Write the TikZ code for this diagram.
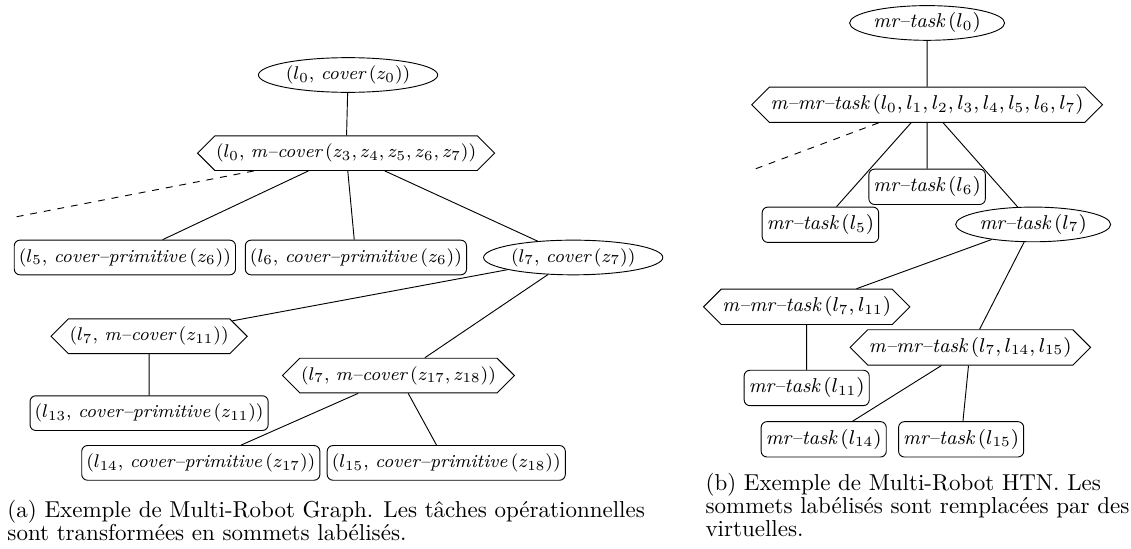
\RequirePackage{fix-cm}
\documentclass[tikz,border=0pt]{standalone}
\usetikzlibrary{positioning,shapes.geometric,shapes.symbols}

\begin{document}
\begin{tikzpicture}[
  font=\footnotesize,
  node distance=7mm,
  task/.style={draw, ellipse, inner xsep=0.5pt, inner ysep=0pt, minimum height=5.3mm},
  mtask/.style={draw, signal, signal to=west and east, inner xsep=0.5pt, minimum height=5.3mm},
  prim/.style={draw, rounded corners=2.5pt, inner xsep=2pt, minimum height=5.3mm},
  cut/.style={dashed},
  capt/.style={anchor=north west, align=left, inner sep=0pt, font=\fontsize{10}{10}\selectfont}
]
\useasboundingbox (0,0) rectangle (17.28,-8.374);

% ============================================================
% (a) MULTI-ROBOT GRAPH
% ============================================================
\node[task] (g0) at (5.318,-1.146) {$(l_0,\,\textit{cover}\,(z_0))$};
\node[mtask, below=6.5mm of g0, xshift=-0.3mm] (gm0) {$(l_0,\,\textit{m--cover}\,(z_3,z_4,z_5,z_6,z_7))$};
\node[prim, below=10.5mm of gm0, xshift=-33.8mm] (g5) {$(l_5,\,\textit{cover--primitive}\,(z_6))$};
\node[prim, below=10.5mm of gm0, xshift=1.5mm] (g6) {$(l_6,\,\textit{cover--primitive}\,(z_6))$};
\node[task, below=10.5mm of gm0, xshift=34.7mm] (g7) {$(l_7,\,\textit{cover}\,(z_7))$};
\node[mtask, below=6.6mm of g7, xshift=-64.8mm] (gm7a) {$(l_7,\,\textit{m--cover}\,(z_{11}))$};
\node[prim, below=6.3mm of gm7a] (g13) {$(l_{13},\,\textit{cover--primitive}\,(z_{11}))$};
\node[mtask, below=12.6mm of g7, xshift=-26.7mm] (gm7b) {$(l_7,\,\textit{m--cover}\,(z_{17},z_{18}))$};
\node[prim, below=7.9mm of gm7b, xshift=-30.2mm] (g14) {$(l_{14},\,\textit{cover--primitive}\,(z_{17}))$};
\node[prim, below=7.9mm of gm7b, xshift=7.3mm] (g15) {$(l_{15},\,\textit{cover--primitive}\,(z_{18}))$};
\coordinate (gcut) at (0.153,-3.331);

\draw (g0) -- (gm0);
\draw (gm0) -- (g5);
\draw (gm0) -- (g6);
\draw (gm0) -- (g7);
\draw[cut] (gm0) -- (gcut);
\draw (g7) -- (gm7a);
\draw (g7) -- (gm7b);
\draw (gm7a) -- (g13);
\draw (gm7b) -- (g14);
\draw (gm7b) -- (g15);

% ============================================================
% (b) MULTI-ROBOT HTN
% ============================================================
\begin{scope}[font=\fontsize{8.7}{10}\selectfont]
\node[task] (h0) at (14.165,-0.351) {$\textit{mr--task}\,(l_0)$};
\node[mtask, below=7mm of h0] (hm0) {$\textit{m--mr--task}\,(l_0,l_1,l_2,l_3,l_4,l_5,l_6,l_7)$};
\node[prim, below=7mm of hm0] (h6) {$\textit{mr--task}\,(l_6)$};
\node[prim, below=12.8mm of hm0, xshift=-16.3mm] (h5) {$\textit{mr--task}\,(l_5)$};
\node[task, below=12.8mm of hm0, xshift=16.2mm] (h7) {$\textit{mr--task}\,(l_7)$};
\node[mtask, below=7.1mm of h7, xshift=-34.6mm] (hm7a) {$\textit{m--mr--task}\,(l_7,l_{11})$};
\node[prim, below=6.85mm of hm7a] (h11) {$\textit{mr--task}\,(l_{11})$};
\node[mtask, below=13.3mm of h7, xshift=-9.6mm] (hm7b) {$\textit{m--mr--task}\,(l_7,l_{14},l_{15})$};
\node[prim, below=8.5mm of hm7b, xshift=-22.4mm] (h14) {$\textit{mr--task}\,(l_{14})$};
\node[prim, below=8.5mm of hm7b, xshift=-1.4mm] (h15) {$\textit{mr--task}\,(l_{15})$};
\coordinate (hcut) at (11.537,-2.582);
\end{scope}

\draw (h0) -- (hm0);
\draw (hm0) -- (h5);
\draw (hm0) -- (h6);
\draw (hm0) -- (h7);
\draw[cut] (hm0) -- (hcut);
\draw (h7) -- (hm7a);
\draw (h7) -- (hm7b);
\draw (hm7a) -- (h11);
\draw (hm7b) -- (h14);
\draw (hm7b) -- (h15);

% ============================================================
% CAPTIONS
% ============================================================
\node[capt] (capa) at (0.107,-7.636) {(a) Exemple de Multi-Robot Graph. Les tâches opérationnelles\\sont transformées en sommets labélisés.};
\node[capt] (capb) at (10.773,-7.223) {(b) Exemple de Multi-Robot HTN. Les\\sommets labélisés sont remplacées par des\\virtuelles.};

\end{tikzpicture}
\end{document}
